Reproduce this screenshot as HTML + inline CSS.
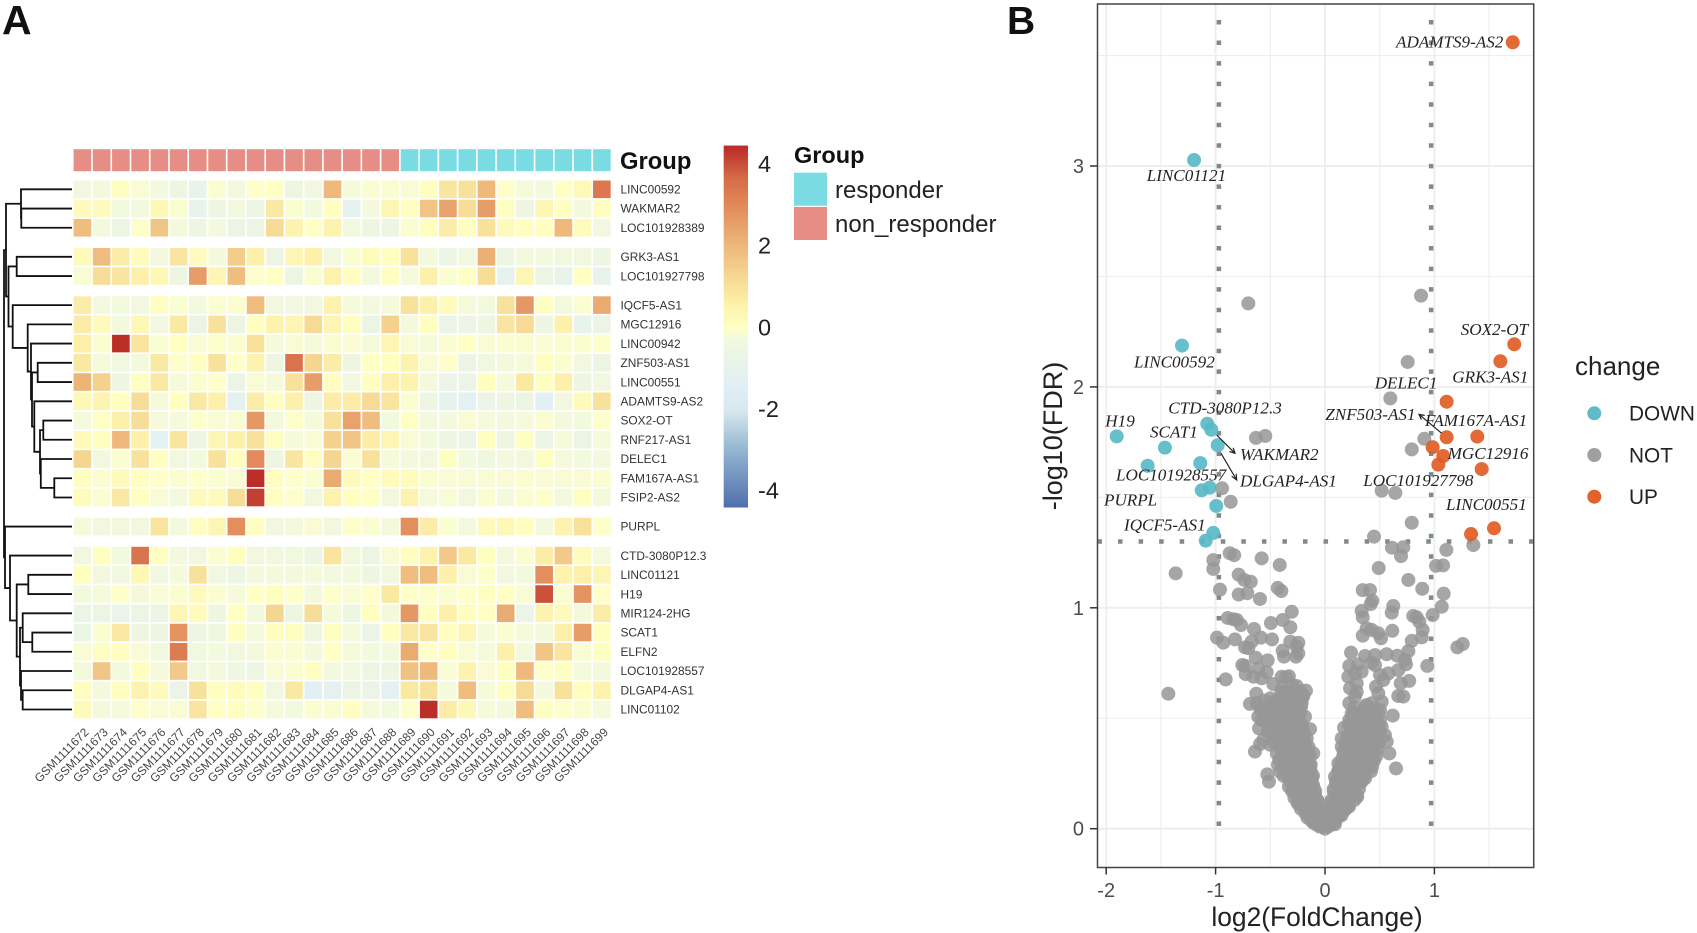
<!DOCTYPE html>
<html lang="en">
<head>
<meta charset="utf-8">
<title>Heatmap and volcano plot</title>
<style>
html,body{margin:0;padding:0;background:#fff;width:1697px;height:933px;overflow:hidden}
svg{display:block;font-family:"Liberation Sans",sans-serif}
.gene{font-family:"Liberation Serif",serif;font-style:italic;font-size:17.1px;fill:#222}
</style>
</head>
<body>
<svg id="fig" xmlns="http://www.w3.org/2000/svg" width="1697" height="933" viewBox="0 0 1697 933">
<rect width="1697" height="933" fill="#fff"/>
<text x="2" y="34" font-size="41" font-weight="bold" fill="#111">A</text>
<text x="1007" y="34" font-size="39" font-weight="bold" fill="#111">B</text>

<g id="dendrogram" fill="none" stroke="#111" stroke-width="1.8"></g>
<g id="annotation"></g>
<text x="620" y="169" font-size="23.8" font-weight="bold" fill="#111">Group</text>
<g id="heatmap"></g>
<g id="rowLabels"></g>
<g id="colLabels"></g>
<g id="colorbar"></g>

<g>
<text x="794" y="163" font-size="23.5" font-weight="bold" fill="#111">Group</text>
<rect x="794" y="172.7" width="33" height="33" fill="#7ADBE2"/>
<rect x="794" y="207" width="33" height="33" fill="#E68D85"/>
<text x="835" y="198" font-size="24" fill="#222">responder</text>
<text x="835" y="232" font-size="24" fill="#222">non_responder</text>
</g>

<g id="grid"></g>
<g id="thresholds" stroke="#7f8a8a" stroke-width="4.5" stroke-dasharray="4.5 16.05" fill="none"></g>
<g id="points"></g>
<rect x="1097.5" y="4" width="436.2" height="863.5" fill="none" stroke="#444" stroke-width="1.5"/>
<g id="axes"></g>

<g>
<text class="gene" x="1396" y="47.7">ADAMTS9-AS2</text>
<text class="gene" x="1146.7" y="181">LINC01121</text>
<text class="gene" x="1134" y="367.3">LINC00592</text>
<text class="gene" x="1168.3" y="413.3">CTD-3080P12.3</text>
<text class="gene" x="1105.3" y="426.7">H19</text>
<text class="gene" x="1150" y="437.7">SCAT1</text>
<text class="gene" x="1240" y="460">WAKMAR2</text>
<text class="gene" x="1116" y="480.7">LOC101928557</text>
<text class="gene" x="1240" y="486.7">DLGAP4-AS1</text>
<text class="gene" x="1104" y="505.7">PURPL</text>
<text class="gene" x="1124" y="530.7">IQCF5-AS1</text>
<text class="gene" x="1460.7" y="335">SOX2-OT</text>
<text class="gene" x="1452.3" y="382.7">GRK3-AS1</text>
<text class="gene" x="1374.7" y="388.7">DELEC1</text>
<text class="gene" x="1325.3" y="420">ZNF503-AS1</text>
<text class="gene" x="1425" y="426">FAM167A-AS1</text>
<text class="gene" x="1447.7" y="459">MGC12916</text>
<text class="gene" x="1363.3" y="486">LOC101927798</text>
<text class="gene" x="1446" y="510">LINC00551</text>
<path d="M1216.7 435L1235 453.3M1229.5 451.5L1235 453.3L1233.2 447.8" fill="none" stroke="#222" stroke-width="1.2"/>
<path d="M1221 453.3L1236.7 480M1231.7 476.3L1236.7 480L1236.2 473.8" fill="none" stroke="#222" stroke-width="1.2"/>
<path d="M1441.7 433.3L1419 414.3M1424.7 415.5L1419 414.3L1421.4 419.6" fill="none" stroke="#222" stroke-width="1.2"/>
</g>

<text transform="translate(1062,436) rotate(-90)" text-anchor="middle" font-size="27" fill="#222">-log10(FDR)</text>
<text x="1317" y="926" text-anchor="middle" font-size="26.4" fill="#222">log2(FoldChange)</text>

<g>
<text x="1575" y="375" font-size="26" fill="#222">change</text>
<circle cx="1594.3" cy="413.3" r="7" fill="#5FBBC8"/>
<circle cx="1594.3" cy="455" r="7" fill="#a0a0a0"/>
<circle cx="1594.3" cy="496.7" r="7" fill="#E2622A"/>
<text x="1629" y="420.5" font-size="20.8" fill="#222">DOWN</text>
<text x="1629" y="462.5" font-size="20.8" fill="#222">NOT</text>
<text x="1629" y="504" font-size="20.8" fill="#222">UP</text>
</g>
</svg>

<script>
const geneLabels = ["LINC00592","WAKMAR2","LOC101928389","GRK3-AS1","LOC101927798","IQCF5-AS1","MGC12916","LINC00942","ZNF503-AS1","LINC00551","ADAMTS9-AS2","SOX2-OT","RNF217-AS1","DELEC1","FAM167A-AS1","FSIP2-AS2","PURPL","CTD-3080P12.3","LINC01121","H19","MIR124-2HG","SCAT1","ELFN2","LOC101928557","DLGAP4-AS1","LINC01102"];
const sampleLabels = ["GSM1111672","GSM1111673","GSM1111674","GSM1111675","GSM1111676","GSM1111677","GSM1111678","GSM1111679","GSM1111680","GSM1111681","GSM1111682","GSM1111683","GSM1111684","GSM1111685","GSM1111686","GSM1111687","GSM1111688","GSM1111689","GSM1111690","GSM1111691","GSM1111692","GSM1111693","GSM1111694","GSM1111695","GSM1111696","GSM1111697","GSM1111698","GSM1111699"];
const nonResponderCount = 17;
const clusterSizes = [3,2,11,1,9];
const scaleTicks = [4,2,0,-2,-4];

const heatValues = [
[-0.4,-0.3,0.05,-0.15,-0.3,-0.5,-0.9,-0.1,-0.3,-0.05,0,-0.5,-0.4,2,-0.2,-0.1,-0.1, -0.15,0.1,0.9,1,2,-0.05,-0.2,-0.3,0,0.25,3.4],
[0.2,0.2,-0.3,-0.3,0.3,-0.1,-0.9,-0.5,-0.3,-0.6,0.8,-0.1,-0.3,0.1,-1,-0.3,0.4, 0.1,1.7,2.5,1.1,2.6,0.05,-0.5,0.4,0.05,-0.3,0.1],
[1.9,-0.3,-0.6,-0.05,1.7,-0.3,-0.5,-0.3,-0.6,-0.6,1.2,0.5,0,0.5,-0.4,-0.5,-0.5, -0.1,0.1,0.7,0.1,1,0.2,0.1,0.1,2,0.15,-0.4],
[0.2,1.9,0.7,0.15,-0.4,0.9,0.15,-0.25,1.5,0.6,-0.6,0.4,0.6,-0.4,-0.1,0.15,0.05, 1,-0.3,-0.6,-0.4,2.2,-0.5,-0.3,-0.3,-0.4,-0.4,-0.5],
[-0.15,1.1,0.9,0.6,0.3,-0.5,2.6,0.4,1.9,-0.05,0,-0.6,-0.1,0.5,0.1,-0.3,0.1, -0.2,0.6,-0.1,0,1.1,-1,0.4,-0.6,-0.9,0,-0.9],
[0.7,-0.3,-0.3,-0.4,0.1,-0.1,-0.3,-0.1,-0.1,1.9,-0.4,-0.4,-0.4,0.5,-0.2,-0.3,-0.2, 1,0.6,0.15,-0.2,-0.3,1,2.7,0.05,-0.3,-0.1,2.3],
[0.7,0.2,-0.3,0.3,-0.4,0.8,-0.6,1,-0.6,0.05,0.5,0.4,1.2,0.4,0.1,-0.6,1.4, -0.3,0.1,-0.7,-0.7,-0.5,0.9,1.2,-0.5,0.6,-0.9,-0.7],
[0.6,-0.1,4.4,0.9,-0.1,0.02,-0.15,-0.05,-0.1,1,-0.2,-0.15,-0.2,-0.1,-0.15,-0.2,0.4, -0.15,-0.2,-0.1,0,-0.15,-0.1,-0.1,-0.15,-0.1,-0.1,-0.05],
[0.8,-0.2,-0.4,-0.3,0.8,-0.05,0.05,1,-0.05,0.5,-0.5,3.5,1.3,0.7,-0.5,0,0.1, 0.5,-0.15,-0.05,-0.6,-0.4,-0.25,-0.2,0.1,-0.1,-0.4,-0.6],
[2.1,1.4,-0.5,0.05,0.8,-0.2,-0.1,-0.05,-0.6,-0.15,-0.2,1,2.6,0.1,-0.4,0.1,0.6, 0.5,-0.3,-0.7,-0.7,0.05,-0.2,0.8,0.05,0.6,-0.5,-0.4],
[0.3,0.45,0.1,1.1,-0.2,0.05,0.8,0.6,-1.1,0.7,0.1,0.6,-0.5,0.7,0.7,1.2,0.9, -0.1,-0.5,-1,-1.2,-0.7,-0.5,-0.6,-1.3,-0.4,0.2,1],
[-0.2,0,0.6,1.1,-0.2,-0.2,-0.05,-0.15,-0.15,2.7,-0.3,-0.05,-0.2,1,2.5,1.9,-0.3, 0,-0.3,-0.3,-0.15,-0.2,-0.3,-0.2,-0.1,-0.3,-0.3,-0.05],
[0.2,0.05,2,0.6,-1.2,0.9,-0.5,0.4,0.6,1,0.05,-0.2,-0.15,1.4,1.7,0.7,0.4, -0.15,-0.3,-0.5,-0.7,0.05,-0.5,0.05,-0.6,-0.2,-0.6,-0.2],
[1.3,-0.4,-0.1,1,0.1,-0.4,-0.3,1,0.05,3,-0.5,0.9,0.1,1.3,-0.1,1,-0.2, -0.25,-0.35,0.05,-0.3,-0.45,-0.3,-0.4,0.05,-0.2,-0.3,-0.3],
[0.05,-0.1,0.2,0.05,-0.05,-0.1,-0.05,-0.1,-0.15,4.4,0.1,-0.05,-0.1,2.3,0.2,0,0.15, 0.15,-0.1,-0.15,-0.15,-0.15,-0.15,-0.1,-0.15,-0.15,-0.15,-0.1],
[0.15,-0.1,0.8,0.05,-0.15,-0.3,0.2,0.2,1.1,4.2,0.05,-0.05,-0.35,0.5,0.1,0,-0.35, 0.5,-0.2,-0.15,-0.35,-0.1,-0.3,-0.1,-0.05,-0.3,0.05,-0.3],
[-0.2,-0.35,-0.35,-0.4,0.9,-0.3,0.1,0.4,2.9,0.05,-0.4,-0.3,-0.15,-0.35,-0.05,-0.1,-0.25, 2.9,0.7,-0.1,-0.3,0.2,0.3,0.1,-0.3,0.5,1,-0.05],
[-0.4,0.05,-0.3,3.5,0.1,-0.3,-0.35,-0.1,0.05,-0.35,-0.4,-0.35,-0.55,0.9,-0.35,-0.6,-0.15, 0.1,0.5,1.6,0.8,0.05,-0.3,-0.1,0.7,1.6,0.15,-0.2],
[0.05,-0.35,-0.4,0.3,-0.4,-0.2,1,-0.4,-0.55,-0.25,-0.25,-0.25,-0.2,-0.3,-0.3,-0.5,-0.4, 1.9,1.9,0.6,-0.15,-0.05,-0.35,-0.3,2.9,0.5,0.6,0.4],
[-0.3,-0.2,-0.05,-0.25,-0.15,-0.1,0.2,-0.1,-0.2,0,0.05,-0.05,-0.25,-0.05,-0.15,-0.05,0.8, -0.05,-0.05,-0.1,-0.05,0.05,0,-0.15,4,-0.1,2.8,-0.05],
[-0.6,-0.6,-0.75,-0.6,-0.6,0.4,0.15,-0.5,0,-0.3,1.3,-0.5,1.1,-0.2,-0.5,0.1,-0.25, 2.7,0.05,0.6,0.1,0,2.3,-0.7,0.5,0.2,-0.25,0.7],
[-0.65,-0.1,0.8,-0.5,-0.5,2.8,-0.5,-0.45,0.05,-0.2,0.1,0.05,-0.45,0.05,-0.2,-0.7,0.05, 0.8,0.9,0.1,0.4,-0.2,-0.1,-0.2,-0.25,0.6,2.6,0.05],
[-0.15,0.05,0.1,-0.15,-0.35,3.3,-0.35,-0.3,-0.35,-0.25,-0.1,-0.1,-0.25,0,-0.2,-0.3,-0.3, 2.3,-0.05,0.05,-0.15,-0.2,0.6,-0.3,1.7,0.9,-0.15,0.05],
[-0.3,1.7,-0.3,0.05,-0.2,1.6,-0.4,-0.25,-0.45,-0.55,-0.15,-0.1,0.1,-0.3,-0.4,-0.5,-0.5, 1.8,2,-0.15,0.5,-0.15,0.05,2,-0.05,0.05,-0.2,-0.3],
[0.1,-0.3,0.1,0.5,0.2,-0.7,1,0.1,0.15,0.05,-0.4,0.8,-1.3,-1.1,-0.6,-0.7,-1.1, 0.8,1,-0.2,1.9,-0.2,0.05,1.2,-0.3,1,0.1,0.5],
[0.2,-0.25,-0.2,-0.05,-0.15,-0.15,0.9,0,0.05,-0.05,-0.2,-0.3,-0.1,-0.1,0.1,-0.2,-0.3, -0.05,4.4,0.7,0.3,-0.2,-0.25,1.9,0.05,-0.05,-0.1,-0.2]
];

const dendrogramTree = [68,
  [66,
    [51,0,[50.7,1,2]],
    [63.5,
      [55.3,3,4],
      [59.3,5,[44.3,6,[41,7,[40,[34.3,8,9],[37.7,10,[32,[28.7,11,12],[31.2,13,[17.7,14,15]]]]]]]]
    ]
  ],
  [67,16,[62,17,[55.3,[43.7,18,19],[52,[49.3,20,[39.7,21,22]],[51,23,[49.3,24,25]]]]]]
];

const volcanoXTicks = [-2,-1,0,1];
const volcanoYTicks = [0,1,2,3];
const volcanoXMinor = [-1.5,-0.5,0.5,1.5];
const volcanoYMinor = [0.5,1.5,2.5,3.5];
const foldChangeCutoffs = [-0.97,0.97];
const fdrCutoff = 1.3;

const downPoints = [[-1.197,3.027],[-1.307,2.187],[-1.076,1.833],[-1.039,1.806],[-0.981,1.736],[-1.904,1.776],[-1.463,1.725],[-1.621,1.643],[-1.14,1.655],[-1.127,1.532],[-1.054,1.544],[-0.994,1.461],[-1.021,1.339],[-1.09,1.304]];
const upPoints = [[1.716,3.56],[1.73,2.193],[1.603,2.116],[1.112,1.933],[1.112,1.772],[1.392,1.775],[0.984,1.727],[1.081,1.687],[1.036,1.648],[1.432,1.628],[1.335,1.334],[1.545,1.36]];
const notPointsUpperRight = [[0.878,2.413],[0.756,2.113],[0.597,1.948],[0.908,1.765],[0.793,1.717],[0.518,1.53],[0.643,1.52],[0.793,1.385],[0.448,1.322],[1.356,1.284],[0.612,1.272],[0.716,1.274],[0.695,1.234],[1.109,1.262],[1.015,1.19],[1.079,1.192],[0.491,1.18],[0.762,1.126],[0.889,1.086],[1.085,1.064],[0.345,1.08],[0.411,1.08]];
const notPointsUpperLeft = [[-0.701,2.378],[-0.631,1.769],[-0.546,1.778],[-0.941,1.541],[-0.862,1.48],[-0.871,1.247],[-0.83,1.238],[-0.579,1.224],[-0.414,1.194],[-1.021,1.216],[-1.021,1.176],[-1.365,1.156],[-0.789,1.15],[-0.737,1.126],[-0.679,1.118],[-0.432,1.09],[-0.399,1.076],[-0.96,1.082],[-0.789,1.06],[-0.71,1.066],[-0.594,1.04]];
const notPointsMidLeft = [[-0.304,0.982],[-0.387,0.945],[-0.494,0.931],[-0.317,0.912],[-0.889,0.954],[-0.838,0.948],[-0.807,0.945],[-0.768,0.922],[-0.649,0.904],[-0.987,0.865],[-0.93,0.842],[-0.823,0.857],[-0.585,0.865],[-0.484,0.857],[-0.67,0.847],[-0.731,0.821],[-0.701,0.817],[-0.317,0.847],[-0.244,0.842],[-0.259,0.824],[-0.387,0.806],[-0.244,0.794],[-0.375,0.779],[-0.265,0.779],[-0.633,0.774],[-0.524,0.762],[-0.756,0.741],[-0.731,0.737],[-0.908,0.676],[-0.725,0.7],[-0.61,0.726],[-0.655,0.688],[-0.579,0.681],[-0.533,0.708],[-0.396,0.688],[-0.356,0.685],[-0.473,0.655],[-0.396,0.636],[-0.259,0.646],[-0.174,0.625],[-0.198,0.601],[-0.628,0.611],[-1.432,0.611],[-0.686,0.565],[-0.624,0.568],[-0.579,0.545],[-0.441,0.575],[-0.32,0.575],[-0.213,0.568],[-0.61,0.507],[-0.579,0.492],[-0.487,0.545],[-0.487,0.484],[-0.427,0.5],[-0.381,0.477],[-0.183,0.507],[-0.137,0.451],[-0.603,0.454],[-0.518,0.439],[-0.441,0.424],[-0.167,0.409],[-0.564,0.402],[-0.594,0.383],[-0.64,0.349],[-0.381,0.402],[-0.107,0.341],[-0.381,0.341],[-0.418,0.311],[-0.411,0.258],[-0.527,0.246],[-0.512,0.213],[-0.25,0.115],[-0.107,0.027]];
const notPointsMidRight = [[0.432,1.032],[0.418,1.017],[0.624,1.008],[0.61,0.978],[0.335,0.986],[0.345,0.957],[0.807,0.963],[0.838,0.957],[0.862,0.937],[1.067,1.005],[0.984,0.967],[0.615,0.896],[0.381,0.907],[0.427,0.9],[0.487,0.885],[0.512,0.862],[0.345,0.874],[0.893,0.9],[0.884,0.866],[0.793,0.85],[1.259,0.836],[1.21,0.821],[0.762,0.804],[0.238,0.797],[0.366,0.782],[0.457,0.786],[0.564,0.79],[0.661,0.783],[0.731,0.764],[0.935,0.737],[0.222,0.737],[0.304,0.744],[0.427,0.751],[0.457,0.741],[0.335,0.711],[0.274,0.703],[0.213,0.688],[0.503,0.696],[0.579,0.703],[0.67,0.718],[0.74,0.744],[0.533,0.673],[0.692,0.658],[0.77,0.669],[0.29,0.658],[0.229,0.636],[0.29,0.62],[0.274,0.598],[0.466,0.643],[0.487,0.613],[0.67,0.601],[0.716,0.598],[0.222,0.568],[0.427,0.568],[0.518,0.575],[0.366,0.552],[0.244,0.522],[0.411,0.53],[0.503,0.538],[0.619,0.512],[0.222,0.492],[0.503,0.492],[0.174,0.457],[0.29,0.469],[0.427,0.462],[0.518,0.462],[0.153,0.409],[0.261,0.424],[0.548,0.424],[0.564,0.394],[0.153,0.371],[0.35,0.387],[0.487,0.387],[0.588,0.341],[0.649,0.273],[0.427,0.308],[0.396,0.281],[0.122,0.296],[0.091,0.235],[0.366,0.228],[0.295,0.145],[0.213,0.107],[0.091,0.047]];
const notPointsDenseLeft = [[-0.48,0.5],[-0.42,0.52],[-0.36,0.5],[-0.3,0.52],[-0.24,0.5],[-0.23,0.52],[-0.45,0.47],[-0.39,0.45],[-0.33,0.47],[-0.27,0.45],[-0.21,0.47],[-0.2,0.45],[-0.44,0.42],[-0.38,0.4],[-0.32,0.42],[-0.26,0.4],[-0.2,0.42],[-0.18,0.39],[-0.36,0.36],[-0.3,0.37],[-0.24,0.35],[-0.18,0.37],[-0.16,0.35],[-0.38,0.32],[-0.33,0.3],[-0.27,0.32],[-0.21,0.3],[-0.15,0.32],[-0.14,0.29],[-0.36,0.27],[-0.31,0.25],[-0.25,0.27],[-0.19,0.25],[-0.13,0.26],[-0.12,0.23],[-0.33,0.22],[-0.28,0.2],[-0.22,0.22],[-0.16,0.2],[-0.11,0.2],[-0.1,0.18],[-0.3,0.17],[-0.25,0.15],[-0.2,0.17],[-0.14,0.15],[-0.09,0.15],[-0.07,0.13],[-0.24,0.12],[-0.19,0.1],[-0.14,0.11],[-0.09,0.1],[-0.06,0.09],[-0.18,0.07],[-0.13,0.06],[-0.09,0.06],[-0.05,0.05],[-0.03,0.05],[-0.1,0.03],[-0.07,0.02],[-0.04,0.015],[-0.02,0.01],[0,0],[-0.5,0.55],[-0.44,0.57],[-0.38,0.58],[-0.33,0.56],[-0.27,0.6],[-0.22,0.62],[-0.36,0.62],[-0.3,0.65],[-0.22,0.55],[-0.28,0.55],[-0.4,0.62],[-0.33,0.69],[-0.3,0.62]];
const notPointsDenseRight = [[0.27,0.55],[0.33,0.53],[0.38,0.56],[0.44,0.54],[0.49,0.52],[0.22,0.47],[0.28,0.48],[0.34,0.46],[0.4,0.48],[0.46,0.46],[0.5,0.44],[0.2,0.41],[0.26,0.39],[0.32,0.41],[0.38,0.39],[0.44,0.41],[0.49,0.39],[0.17,0.35],[0.23,0.34],[0.29,0.36],[0.35,0.34],[0.41,0.36],[0.47,0.33],[0.15,0.3],[0.2,0.29],[0.26,0.31],[0.32,0.29],[0.38,0.31],[0.43,0.28],[0.12,0.26],[0.18,0.25],[0.24,0.24],[0.3,0.26],[0.36,0.24],[0.1,0.21],[0.15,0.2],[0.21,0.21],[0.27,0.19],[0.33,0.21],[0.08,0.17],[0.13,0.16],[0.18,0.15],[0.24,0.17],[0.29,0.15],[0.06,0.12],[0.11,0.11],[0.16,0.1],[0.21,0.12],[0.04,0.08],[0.08,0.07],[0.13,0.06],[0.17,0.08],[0.02,0.04],[0.05,0.03],[0.09,0.03],[0.01,0.015],[0.03,0.01]];
const notPointsCoreLeft = [[-0.56,0.58],[-0.5,0.59],[-0.45,0.58],[-0.39,0.6],[-0.32,0.58],[-0.26,0.57],[-0.21,0.59],[-0.59,0.54],[-0.53,0.53],[-0.47,0.55],[-0.41,0.54],[-0.35,0.53],[-0.29,0.54],[-0.24,0.53],[-0.55,0.49],[-0.5,0.48],[-0.45,0.5],[-0.39,0.49],[-0.33,0.5],[-0.28,0.49],[-0.23,0.48],[-0.52,0.44],[-0.46,0.43],[-0.41,0.44],[-0.35,0.45],[-0.3,0.43],[-0.24,0.44],[-0.19,0.43],[-0.5,0.38],[-0.46,0.39],[-0.41,0.37],[-0.35,0.39],[-0.3,0.38],[-0.24,0.39],[-0.19,0.38],[-0.15,0.37],[-0.44,0.34],[-0.39,0.35],[-0.34,0.33],[-0.29,0.34],[-0.23,0.33],[-0.18,0.34],[-0.14,0.33],[-0.43,0.29],[-0.38,0.28],[-0.33,0.29],[-0.28,0.28],[-0.23,0.3],[-0.18,0.28],[-0.13,0.29],[-0.38,0.24],[-0.34,0.25],[-0.29,0.23],[-0.24,0.24],[-0.2,0.23],[-0.15,0.24],[-0.11,0.24],[-0.33,0.19],[-0.29,0.18],[-0.25,0.2],[-0.2,0.19],[-0.16,0.18],[-0.12,0.19],[-0.09,0.17],[-0.28,0.14],[-0.24,0.13],[-0.2,0.14],[-0.16,0.13],[-0.12,0.14],[-0.09,0.13],[-0.06,0.12],[-0.22,0.09],[-0.18,0.1],[-0.15,0.08],[-0.11,0.09],[-0.08,0.08],[-0.05,0.07],[-0.03,0.07],[-0.16,0.05],[-0.13,0.04],[-0.1,0.05],[-0.07,0.04],[-0.05,0.03],[-0.02,0.03],[-0.08,0.02],[-0.05,0.01],[-0.03,0.02],[-0.01,0.015]];
const notPointsCoreRight = [[0.26,0.52],[0.31,0.51],[0.36,0.52],[0.41,0.51],[0.46,0.52],[0.24,0.47],[0.29,0.46],[0.35,0.48],[0.4,0.46],[0.45,0.48],[0.49,0.47],[0.21,0.42],[0.27,0.43],[0.32,0.44],[0.37,0.42],[0.42,0.43],[0.47,0.42],[0.19,0.37],[0.24,0.38],[0.29,0.39],[0.34,0.37],[0.39,0.38],[0.44,0.37],[0.48,0.36],[0.16,0.32],[0.21,0.33],[0.26,0.32],[0.31,0.33],[0.36,0.32],[0.41,0.33],[0.45,0.31],[0.13,0.27],[0.18,0.28],[0.23,0.27],[0.28,0.28],[0.33,0.26],[0.38,0.27],[0.42,0.26],[0.11,0.22],[0.16,0.23],[0.2,0.24],[0.25,0.22],[0.3,0.23],[0.34,0.22],[0.08,0.18],[0.12,0.19],[0.17,0.18],[0.21,0.18],[0.26,0.19],[0.31,0.18],[0.06,0.13],[0.1,0.14],[0.14,0.13],[0.18,0.12],[0.23,0.14],[0.27,0.13],[0.04,0.09],[0.08,0.1],[0.11,0.09],[0.15,0.08],[0.19,0.09],[0.22,0.1],[0.02,0.05],[0.05,0.06],[0.08,0.05],[0.11,0.05],[0.15,0.06],[0.01,0.02],[0.03,0.03],[0.06,0.02],[0.09,0.02]];

const SVG_NS = "http://www.w3.org/2000/svg";
function make(tag, parentId, props) {
  const node = document.createElementNS(SVG_NS, tag);
  for (const key in props) { node.setAttribute(key, props[key]); }
  document.getElementById(parentId).appendChild(node);
  return node;
}

/* ---------- heatmap scales ---------- */
const COL_LEFT = 73.6, COL_STEP = 19.24, ROW_TOP = 180.5, ROW_STEP = 19.24, CLUSTER_GAP = 9.8, CELL = 17.6;
const colorStops = [[-4.4,[79,111,171]],[-3,[147,181,208]],[-2,[215,232,240]],[-1.3,[226,240,245]],[-0.6,[236,245,228]],[-0.2,[245,250,218]],[0,[255,255,195]],[0.5,[253,243,175]],[1,[248,226,155]],[2,[238,185,123]],[3,[226,138,90]],[3.7,[213,106,72]],[4.4,[188,47,40]]];
function heatColor(v) {
  if (v <= colorStops[0][0]) return "rgb(" + colorStops[0][1].join(",") + ")";
  for (let i = 1; i < colorStops.length; i++) {
    if (v <= colorStops[i][0]) {
      const a = colorStops[i-1], b = colorStops[i];
      const t = (v - a[0]) / (b[0] - a[0]);
      return "rgb(" + [0,1,2].map(k => Math.round(a[1][k] + t * (b[1][k] - a[1][k]))).join(",") + ")";
    }
  }
  return "rgb(" + colorStops[colorStops.length-1][1].join(",") + ")";
}
const rowCluster = [];
clusterSizes.forEach((size, c) => { for (let i = 0; i < size; i++) rowCluster.push(c); });
function rowTop(r) { return ROW_TOP + r * ROW_STEP + rowCluster[r] * CLUSTER_GAP; }
function rowCenter(r) { return rowTop(r) + CELL / 2; }
function colLeft(c) { return COL_LEFT + c * COL_STEP; }

heatValues.forEach((row, r) => {
  row.forEach((value, c) => {
    const cell = make("rect", "heatmap", {x: colLeft(c), y: rowTop(r), width: CELL, height: CELL, fill: heatColor(value)});
    
    
  });
});

geneLabels.forEach((gene, r) => {
  const label = make("text", "rowLabels", {x: 620.5, y: rowCenter(r) + 4.2, "font-size": 11.9, fill: "#333"});
  label.textContent = gene;
  
  
});

sampleLabels.forEach((sample, c) => {
  const cx = colLeft(c) + CELL / 2 + 7;
  const label = make("text", "colLabels", {transform: "translate(" + cx + ",733) rotate(-45)", "text-anchor": "end", "font-size": 11.9, fill: "#444"});
  label.textContent = sample;
  
  
  const swatch = make("rect", "annotation", {x: colLeft(c), y: 149.2, width: CELL, height: 22, fill: c < nonResponderCount ? "#E68D85" : "#7ADBE2"});
  
  
});

/* ---------- dendrogram ---------- */
const LEAF_X = 72;
function drawTree(node) {
  if (typeof node === "number") return {x: LEAF_X, y: rowCenter(node)};
  const x = LEAF_X - node[0];
  const a = drawTree(node[1]), b = drawTree(node[2]);
  const link = make("path", "dendrogram", {d: "M" + a.x + " " + a.y + "H" + x + "V" + b.y + "H" + b.x});
  
  
  return {x: x, y: (a.y + b.y) / 2};
}
drawTree(dendrogramTree);

/* ---------- colour scale ---------- */
const BAR_ZERO = 326.7, BAR_PER_UNIT = 40.8;
function barY(v) { return BAR_ZERO - v * BAR_PER_UNIT; }
for (let i = 0; i < 120; i++) {
  const top = 4.44 - i * (8.86 / 120);
  const slice = make("rect", "colorbar", {x: 723.7, y: barY(top), width: 24.3, height: 8.86 / 120 * BAR_PER_UNIT + 0.5, fill: heatColor(top)});
  
  
}
scaleTicks.forEach(t => {
  const label = make("text", "colorbar", {x: 758, y: barY(t) + 8.6, "font-size": 23.5, fill: "#222"});
  label.textContent = t;
  
  
});

/* ---------- volcano ---------- */
const VX0 = 1325, VX_PER = 109.4, VY0 = 828.7, VY_PER = 220.9;
const FRAME_L = 1097.5, FRAME_R = 1533.7, FRAME_T = 4, FRAME_B = 867.5;
function vx(v) { return VX0 + v * VX_PER; }
function vy(v) { return VY0 - v * VY_PER; }

function gridLine(x1, y1, x2, y2, w) {
  const line = make("line", "grid", {x1: x1, y1: y1, x2: x2, y2: y2, stroke: "#eeeeee", "stroke-width": w});
  
  
}
volcanoYMinor.forEach(v => gridLine(FRAME_L, vy(v), FRAME_R, vy(v), 1.1));
volcanoXMinor.forEach(v => gridLine(vx(v), FRAME_T, vx(v), FRAME_B, 1.1));
volcanoYTicks.forEach(v => gridLine(FRAME_L, vy(v), FRAME_R, vy(v), 2));
volcanoXTicks.forEach(v => gridLine(vx(v), FRAME_T, vx(v), FRAME_B, 2));

foldChangeCutoffs.forEach(v => {
  const line = make("line", "thresholds", {x1: vx(v), y1: 20, x2: vx(v), y2: 827});
  
  
});
const fdrLine = make("line", "thresholds", {x1: FRAME_L, y1: vy(fdrCutoff), x2: FRAME_R, y2: vy(fdrCutoff)});



function plotSeries(list, fill, opacity, r) {
  list.forEach(p => {
    const dot = make("circle", "points", {cx: vx(p[0]), cy: vy(p[1]), r: r, fill: fill, "fill-opacity": opacity});
    
    
  });
}
const notPoints = [].concat(notPointsCoreLeft, notPointsCoreRight, notPointsDenseLeft, notPointsDenseRight, notPointsMidLeft, notPointsMidRight, notPointsUpperLeft, notPointsUpperRight);
plotSeries(notPoints, "#979797", 0.85, 7);
plotSeries(downPoints, "#56b8c6", 0.9, 7);
plotSeries(upPoints, "#E05A20", 0.9, 7);

volcanoYTicks.forEach(v => {
  const tick = make("line", "axes", {x1: 1090, x2: FRAME_L, y1: vy(v), y2: vy(v), stroke: "#333", "stroke-width": 1.5});
  
  
  const label = make("text", "axes", {x: 1084, y: vy(v) + 7, "text-anchor": "end", "font-size": 20, fill: "#4d4d4d"});
  label.textContent = v;
  
  
});
volcanoXTicks.forEach(v => {
  const tick = make("line", "axes", {x1: vx(v), x2: vx(v), y1: FRAME_B, y2: FRAME_B + 7, stroke: "#333", "stroke-width": 1.5});
  
  
  const label = make("text", "axes", {x: vx(v), y: 897, "text-anchor": "middle", "font-size": 20, fill: "#4d4d4d"});
  label.textContent = v;
  
  
});
</script>
</body>
</html>
